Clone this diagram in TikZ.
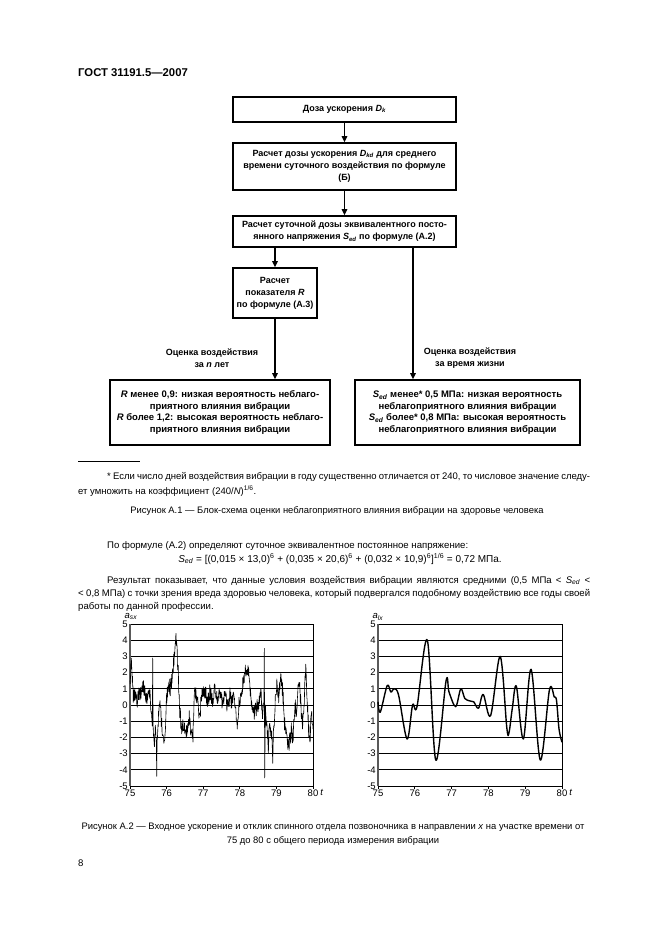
\documentclass[tikz,border=0pt]{standalone}
\usepackage{fontspec}
\setmainfont{Liberation Sans}
\usetikzlibrary{arrows.meta}
\newcommand\fnBody{\fontsize{9.6}{13}\selectfont}
\newcommand\fnForm{\fontsize{10}{13}\selectfont}
\newcommand\fnCap{\fontsize{9.4}{13}\selectfont}
\newcommand\fnFoot{\fontsize{9.5}{12}\selectfont}
\newcommand\fnFlow{\fontsize{9}{12}\selectfont\bfseries}
\newcommand\fnFlowB{\fontsize{9.5}{11.5}\selectfont\bfseries}
\newcommand\fnTick{\fontsize{9.5}{10}\selectfont}
\newcommand\fnHead{\fontsize{11.3}{13}\selectfont\bfseries}
\begin{document}
\begin{tikzpicture}[x=1pt,y=-1pt,
  blk/.style={draw, line width=1.6pt, align=center, inner sep=1pt, font=\fnFlow},
  arr/.style={line width=1.6pt, -{Triangle[width=5.5pt,length=6pt]}},
  lbl/.style={align=center, font=\fnFlow},
  txt/.style={anchor=base west, inner sep=0pt, font=\fnBody},
  grid/.style={line width=0.7pt, black},
  sig/.style={line width=0.6pt, black, line join=round},
  resp/.style={line width=1.4pt, black, line join=round}]
\useasboundingbox (0,0) rectangle (661,936);
\fill[white] (0,0) rectangle (661,936);

% header
\node[anchor=base west, inner sep=0pt, font=\fnHead] (hdr) at (78,77) {ГОСТ 31191.5—2007};

% flowchart
\node[blk, minimum width=223pt, minimum height=25pt] (b1) at (344.5,109.5) {Доза ускорения \textit{D}\textsubscript{\textit{k}}};
\node[blk, minimum width=223pt, minimum height=47pt] (b2) at (344.5,166.5) {Расчет дозы ускорения \textit{D}\textsubscript{\textit{kd}} для среднего\\времени суточного воздействия по формуле\\(Б)};
\node[blk, minimum width=223pt, minimum height=31pt] (b3) at (344.5,231.5) {Расчет суточной дозы эквивалентного посто-\\янного напряжения \textit{S}\textsubscript{\textit{ed}} по формуле (А.2)};
\node[blk, minimum width=84pt, minimum height=50pt] (b4) at (275,293) {Расчет\\показателя \textit{R}\\по формуле (А.3)};
\node[blk, font=\fnFlowB, minimum width=220pt, minimum height=65pt] (b5) at (220,412.5) {\textit{R} менее 0,9: низкая вероятность неблаго-\\приятного влияния вибрации\\\textit{R} более 1,2: высокая вероятность неблаго-\\приятного влияния вибрации};
\node[blk, font=\fnFlowB, minimum width=225pt, minimum height=65pt] (b6) at (467.5,412.5) {\textit{S}\textsubscript{\textit{ed}} менее* 0,5 МПа: низкая вероятность\\неблагоприятного влияния вибрации\\\textit{S}\textsubscript{\textit{ed}} более* 0,8 МПа: высокая вероятность\\неблагоприятного влияния вибрации};
\coordinate (rx) at (413,0);
\draw[arr] (b1) -- (b2);
\draw[arr] (b2) -- (b3);
\draw[arr] (b3.south -| b4.north) -- (b4.north);
\draw[arr] (b4.south) -- (b4.south |- b5.north);
\draw[arr] (b3.south -| rx) -- (b6.north -| rx);
\node[lbl] (l1) at (212,358) {Оценка воздействия\\за \textit{n} лет};
\node[lbl] (l2) at (470,358) {Оценка воздействия\\за время жизни};

% footnote
\draw[line width=0.6pt] (78,461) -- (140,461);
\node[txt, font=\fnFoot] (fn1) at (107,479) {\makebox[483pt][s]{* Если число дней воздействия вибрации в году существенно отличается от 240, то числовое значение следу-}};
\node[txt, font=\fnFoot] (fn2) at (78,494) {ет умножить на коэффициент (240/\textit{N})\textsuperscript{1/6}.};
\node[anchor=base, inner sep=0pt, font=\fnCap] (cap1) at (337,513) {Рисунок А.1 — Блок-схема оценки неблагоприятного влияния вибрации на здоровье человека};

% text
\node[txt] (p1) at (107,548) {По формуле (А.2) определяют суточное эквивалентное постоянное напряжение:};
\node[anchor=base, inner sep=0pt, font=\fnForm] (frm) at (340,562) {\textit{S}\textsubscript{\textit{ed}} = [(0,015 × 13,0)\textsuperscript{6} + (0,035 × 20,6)\textsuperscript{6} + (0,032 × 10,9)\textsuperscript{6}]\textsuperscript{1/6} = 0,72 МПа.};
\node[txt] (p2a) at (107,583) {\makebox[483pt][s]{Результат показывает, что данные условия воздействия вибрации являются средними (0,5 МПа < \textit{S}\textsubscript{\textit{ed}} <}};
\node[txt] (p2b) at (78,596) {\makebox[512pt][s]{< 0,8 МПа) с точки зрения вреда здоровью человека, который подвергался подобному воздействию все годы своей}};
\node[txt] (p2c) at (78,609) {работы по данной профессии.};

% left plot
\pgfmathsetseed{31191}
\begin{scope}[shift={(130,705)}, x=36.6pt, y=16.2pt]
  \foreach \v in {-4,...,5} \draw[grid] (0,\v) -- (5,\v);
  \draw[line width=1pt] (0,-5) -- (5,-5);
  \draw[line width=0.8pt] (5,-5) -- (5,5);
  \foreach \t in {0,...,5} \draw[line width=0.7pt] (\t,-5) -- (\t,-5.2);
  \draw[line width=1.3pt, black!65] (0,-5) -- (0,5);
  \foreach \v in {-5,...,5} \node[anchor=east, inner sep=1pt, font=\fnTick] at (-0.03,\v) {\v};
  \foreach \t/\l in {0/75,1/76,2/77,3/78,4/79,5/80} \node[anchor=north, inner sep=1pt, font=\fnTick] at (\t,-5.15) {\l};
  \node[anchor=north west, inner sep=1pt, font=\fnTick] at (5.17,-5.15) {\textit{t}};
  \node[anchor=base west, inner sep=0pt, font=\fnTick] at (-0.15,5.35) {\textit{a}\textsubscript{\textit{sx}}};
  \draw[sig] (0,1.5) \foreach \tb/\vb/\am [remember=\tb as \ta (initially 0), remember=\vb as \va (initially 1.5), evaluate=\tb as \nn using {int(max(1,round((\tb-\ta)/0.008)))}] in {
    0.03/2.5/0.5, 0.06/1.8/0.6, 0.09/0.4/0.4, 0.15/0.8/0.5, 0.2/0.3/0.5, 0.25/0.9/0.5, 0.3/0.5/0.5, 0.35/1.2/0.4,
    0.42/0.6/0.5, 0.48/0.3/0.4, 0.53/0.8/0.5, 0.58/-0.3/0.5, 0.61/-1.0/0.5, 0.62/2.9/0, 0.63/-1.2/0, 0.66/-2.2/0.5,
    0.70/-1.5/0.6, 0.72/-2.6/0.4, 0.73/-4.4/0, 0.74/-2.0/0, 0.78/-0.8/0.6, 0.82/0.2/0.6, 0.86/-1.0/0.6, 0.90/-1.8/0.5,
    0.95/-2.2/0.4, 1.00/0.3/0.6, 1.05/1.5/0.6, 1.10/0.8/0.6, 1.15/1.8/0.6, 1.20/3.0/0.6, 1.25/4.2/0.5, 1.28/3.5/0.5,
    1.32/2.0/0.5, 1.36/-0.5/0.6, 1.42/-1.5/0.6, 1.48/-1.2/0.6, 1.52/-1.8/0.5, 1.58/-1.3/0.5, 1.62/-0.8/0.6, 1.67/-1.5/0.5,
    1.72/-2.0/0.4, 1.75/0.5/0.5, 1.80/0.8/0.6, 1.85/0.0/0.5, 1.90/-0.8/0.4, 1.95/0.6/0.6, 2.05/0.8/0.5, 2.12/0.3/0.5,
    2.18/0.9/0.6, 2.25/0.2/0.5, 2.32/1.2/0.5, 2.38/0.4/0.5, 2.45/0.9/0.5, 2.52/0.2/0.5, 2.60/0.5/0.5, 2.68/-0.2/0.5,
    2.73/0.6/0.5, 2.78/0.0/0.5, 2.84/0.8/0.6, 2.88/-0.2/0.4, 2.93/-1.5/0.3, 2.97/0.0/0.4, 3.05/0.8/0.5, 3.12/1.8/0.5,
    3.20/2.3/0.5, 3.25/2.0/0.4, 3.30/0.5/0.5, 3.38/-0.5/0.4, 3.45/-0.2/0.5, 3.52/0.2/0.5, 3.58/0.8/0.6, 3.62/-0.8/0.5,
    3.66/0.5/0.4, 3.67/3.5/0, 3.68/-4.5/0, 3.70/0.0/0, 3.73/-1.0/0.6, 3.78/-2.5/0.6, 3.83/-1.2/0.6, 3.88/-2.0/0.5,
    3.90/-3.6/0, 3.92/-1.5/0, 3.97/0.3/0.6, 4.02/1.5/0.5, 4.07/0.5/0.6, 4.12/1.5/0.6, 4.17/0.8/0.6, 4.22/-1.0/0.6,
    4.28/-2.0/0.5, 4.34/-2.5/0.5, 4.40/-1.5/0.6, 4.45/-2.0/0.5, 4.50/0.0/0.6, 4.55/-0.5/0.6, 4.60/1.0/0.6, 4.63/1.6/0.4,
    4.67/0.0/0.6, 4.72/-1.5/0.6, 4.77/1.0/0.6, 4.80/2.2/0.4, 4.84/0.5/0.6, 4.88/-1.5/0.6, 4.92/-2.2/0.5, 4.95/-0.5/0.6,
    4.98/-1.0/0.5, 5.00/-1.8/0.4}
    { \foreach \i in {1,...,\nn} { -- ({\ta+(\tb-\ta)*\i/\nn},{\va+(\vb-\va)*\i/\nn+\am*rand}) } };
\end{scope}

% right plot
\begin{scope}[shift={(378,705)}, x=36.8pt, y=16.2pt]
  \foreach \v in {-4,...,5} \draw[grid] (0,\v) -- (5,\v);
  \draw[line width=1pt] (0,-5) -- (5,-5);
  \draw[line width=0.8pt] (5,-5) -- (5,5);
  \foreach \t in {0,...,5} \draw[line width=0.7pt] (\t,-5) -- (\t,-5.2);
  \draw[line width=1.3pt, black!65] (0,-5) -- (0,5);
  \foreach \v in {-5,...,5} \node[anchor=east, inner sep=1pt, font=\fnTick] at (-0.03,\v) {\v};
  \foreach \t/\l in {0/75,1/76,2/77,3/78,4/79,5/80} \node[anchor=north, inner sep=1pt, font=\fnTick] at (\t,-5.15) {\l};
  \node[anchor=north west, inner sep=1pt, font=\fnTick] at (5.17,-5.15) {\textit{t}};
  \node[anchor=base west, inner sep=0pt, font=\fnTick] at (-0.15,5.35) {\textit{a}\textsubscript{\textit{lx}}};
  \draw[resp] plot[smooth, tension=0.55] coordinates {
    (0,0.2) (0.06,-0.45) (0.25,1.2) (0.35,0.8) (0.44,1.0) (0.56,0.6) (0.79,-2.1) (0.94,0.0) (1.06,-0.1)
    (1.34,4.0) (1.57,-3.4) (1.85,1.5) (1.93,0.8) (2.11,-0.1) (2.25,1.0) (2.36,0.4) (2.5,0.25) (2.6,0.2)
    (2.73,-0.2) (2.86,0.65) (3.06,-0.65) (3.32,3.0) (3.5,-1.4) (3.56,-1.7) (3.65,-0.2) (3.76,1.15)
    (3.95,-2.1) (4.16,2.2) (4.41,-3.4) (4.66,0.95) (4.79,0.5) (4.85,0.3) (4.92,-1.5) (5,-2.3)};
\end{scope}

% caption
\node[anchor=base, inner sep=0pt, font=\fnCap] (cap2a) at (333,829) {Рисунок А.2 — Входное ускорение и отклик спинного отдела позвоночника в направлении \textit{x} на участке времени от};
\node[anchor=base, inner sep=0pt, font=\fnCap] (cap2b) at (333,843) {75 до 80 с общего периода измерения вибрации};
\node[txt] (pg) at (78,866) {8};
\end{tikzpicture}
\end{document}
